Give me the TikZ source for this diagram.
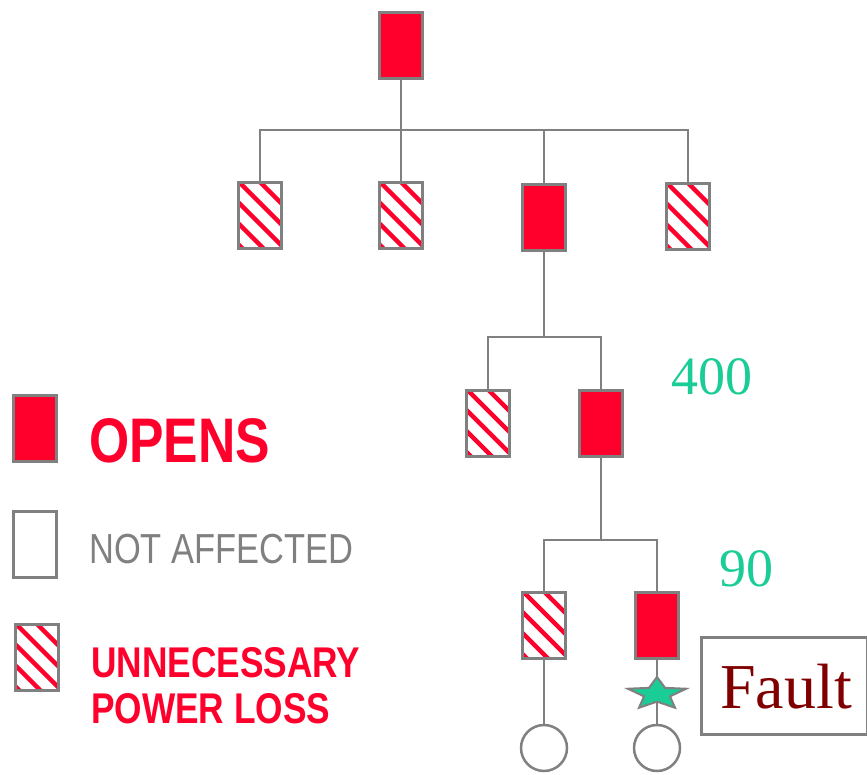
\documentclass[tikz,border=0pt]{standalone}
\usepackage{fontspec}
\setmainfont{Liberation Serif}
\newfontfamily\narrowsans[FakeStretch=0.82]{Liberation Sans}
\usetikzlibrary{shapes.geometric,calc}
\definecolor{boxred}{RGB}{255,0,45}
\definecolor{linegray}{RGB}{128,128,128}
\definecolor{teal}{RGB}{26,204,150}
\definecolor{faultred}{RGB}{128,0,0}
\tikzset{
  sw/.style={draw=linegray, line width=3pt, minimum width=43pt, minimum height=66pt, inner sep=0pt},
  opens/.style={sw, fill=boxred},
  unaff/.style={sw, fill=white},
  hatched/.style={sw, fill=white, path picture={
      \foreach \i in {-5,...,2}
        \draw[boxred, line width=4.5pt]
          ($(path picture bounding box.north west)+(\i*21+1,0)$) -- ++(120,120);
  }},
  wire/.style={draw=linegray, line width=2.5pt},
  load/.style={circle, draw=linegray, line width=2.5pt, minimum size=46pt, inner sep=0pt, fill=white},
}
\begin{document}
\begin{tikzpicture}[x=1pt,y=-1pt]
\useasboundingbox (0,0) rectangle (867,775);
% level 0
\node[opens] (top) at (401,45.5) {};
% level 1
\node[hatched] (a1) at (260,215.5) {};
\node[hatched] (a2) at (401,215.5) {};
\node[opens] (a3) at (544,217.5) {};
\node[hatched] (a4) at (688,216.5) {};
% level 2
\node[hatched] (b1) at (488,423) {};
\node[opens] (b2) at (601,423) {};
% level 3
\node[hatched] (c1) at (544,625) {};
\node[opens] (c2) at (657,625) {};
% loads
\node[load] (l1) at (544,748) {};
\node[load] (l2) at (657,748) {};
% bus coordinates
\coordinate (bus0) at (401,130);
\coordinate (bus1) at (544,337);
\coordinate (bus2) at (601,540);
% wires
\draw[wire] (top.south) -- (bus0);
\draw[wire] (a1.north) |- (bus0 -| a1.north) -- (bus0 -| a4.north) -- (a4.north);
\draw[wire] (bus0) -- (a2.north);
\draw[wire] (bus0 -| a3.north) -- (a3.north);
\draw[wire] (a3.south) -- (bus1);
\draw[wire] (b1.north) |- (bus1 -| b1.north) -- (bus1 -| b2.north) -- (b2.north);
\draw[wire] (b2.south) -- (bus2);
\draw[wire] (c1.north) |- (bus2 -| c1.north) -- (bus2 -| c2.north) -- (c2.north);
\draw[wire] (c1.south) -- (l1.north);
\draw[wire] (c2.south) -- (l2.north);
% star (flattened)
\coordinate (stc) at (657,694);
\filldraw[fill=teal, draw=linegray, line width=2pt, line join=miter, shift={(stc)}]
  (0,-17)
  \foreach \k in {1,...,9}{
    -- ({1.8*(mod(\k,2)==0 ? 17 : 7.6)*cos(90+36*\k)}, {-(mod(\k,2)==0 ? 17 : 7.6)*sin(90+36*\k)})
  } -- cycle;
% fault box
\node[draw=linegray, line width=2.5pt, minimum width=166pt, minimum height=97pt, inner sep=0pt,
      anchor=north west] (fb) at (700,636) {};
\node[anchor=base west, inner sep=0pt, text=faultred, font=\fontsize{64}{64}\selectfont] (ft) at (720,708) {Fault};
% numbers
\node[anchor=base west, inner sep=0pt, text=teal, font=\fontsize{54}{54}\selectfont] (n400) at (671,394) {400};
\node[anchor=base west, inner sep=0pt, text=teal, font=\fontsize{54}{54}\selectfont] (n90) at (719,586) {90};
% legend
\node[opens] (lg1) at (34.5,428) {};
\node[unaff] (lg2) at (34.5,544.5) {};
\node[hatched] (lg3) at (36.5,657) {};
\node[anchor=base west, inner sep=0pt, text=boxred, font=\narrowsans\bfseries\fontsize{63}{63}\selectfont] (t1) at (89,462) {OPENS};
\node[anchor=base west, inner sep=0pt, text=linegray, font=\narrowsans\fontsize{42}{42}\selectfont] (t2) at (89,563) {NOT AFFECTED};
\node[anchor=base west, inner sep=0pt, text=boxred, font=\narrowsans\bfseries\fontsize{43}{43}\selectfont] (t3) at (91,677) {UNNECESSARY};
\node[anchor=base west, inner sep=0pt, text=boxred, font=\narrowsans\bfseries\fontsize{43}{43}\selectfont] (t4) at (91,723) {POWER LOSS};
\end{tikzpicture}
\end{document}
